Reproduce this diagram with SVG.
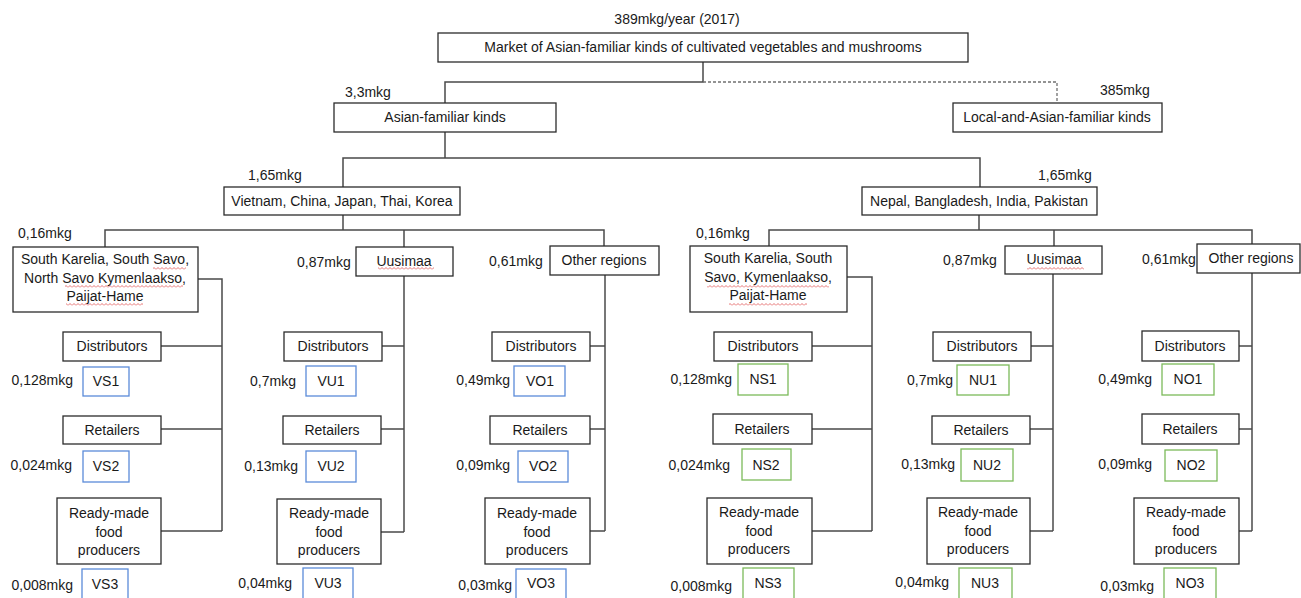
<svg xmlns="http://www.w3.org/2000/svg" width="1301" height="598" viewBox="0 0 1301 598">
  <style>
    text { font-family: "Liberation Sans", Arial, sans-serif; font-size: 14px; fill: #1a1a1a; }
    .c { text-anchor: middle; }
    .e { text-anchor: end; }
    .box { fill: #ffffff; stroke: #2b2b2b; stroke-width: 1.3; }
    .blue { fill: #ffffff; stroke: #5b8bd9; stroke-width: 1.3; }
    .green { fill: #ffffff; stroke: #7cba5a; stroke-width: 1.3; }
    .link { fill: none; stroke: #4a4a4a; stroke-width: 1.5; }
    .dash { fill: none; stroke: #707070; stroke-width: 1.3; stroke-dasharray: 3 2; }
    .wavy { fill: url(#wave); }
  </style>
  <defs>
    <pattern id="wave" x="0" y="0" width="4" height="3" patternUnits="userSpaceOnUse">
      <path d="M0 2.5 L2 0.5 L4 2.5" fill="none" stroke="#e05050" stroke-width="0.8"/>
    </pattern>
  </defs>

  <!-- connectors -->
  <g id="connectors">
    <path class="link" d="M703 62 V82 H445 V103"/>
    <path class="dash" d="M703 82 H1057 V103"/>
    <path class="link" d="M445 132 V158"/>
    <path class="link" d="M343 187 V158 H980 V187"/>
    <!-- Vietnam branch -->
    <path class="link" d="M343 215 V230"/>
    <path class="link" d="M105 247 V230 H604 V246"/>
    <path class="link" d="M404 230 V247"/>
    <!-- Nepal branch -->
    <path class="link" d="M979 215 V230"/>
    <path class="link" d="M769 246 V230 H1252 V244"/>
    <path class="link" d="M1054 230 V246"/>
    <!-- VS -->
    <path class="link" d="M198 279 H222 V531"/>
    <path class="link" d="M161 346 H222 M161 429 H222 M161 531 H222"/>
    <!-- VU -->
    <path class="link" d="M404 276 V532"/>
    <path class="link" d="M382 346 H404 M381 429 H404 M381 532 H404"/>
    <!-- VO -->
    <path class="link" d="M605 275 V531"/>
    <path class="link" d="M590 346 H605 M590 429 H605 M590 531 H605"/>
    <!-- NS -->
    <path class="link" d="M847 277 H872 V531"/>
    <path class="link" d="M812 346 H872 M812 429 H872 M812 531 H872"/>
    <!-- NU -->
    <path class="link" d="M1053 274 V531"/>
    <path class="link" d="M1031 346 H1053 M1030 429 H1053 M1030 531 H1053"/>
    <!-- NO -->
    <path class="link" d="M1252 273 V531"/>
    <path class="link" d="M1239 346 H1252 M1239 429 H1252 M1239 531 H1252"/>
  </g>

  <!-- top level -->
  <text x="677" y="24" class="c">389mkg/year (2017)</text>
  <g id="market">
    <rect class="box" x="438" y="33" width="530" height="29"/>
    <text x="703" y="52" class="c">Market of Asian-familiar kinds of cultivated vegetables and mushrooms</text>
  </g>

  <text x="345" y="97">3,3mkg</text>
  <g id="asian">
    <rect class="box" x="334" y="103" width="222" height="29"/>
    <text x="445" y="122" class="c">Asian-familiar kinds</text>
  </g>

  <text x="1100" y="95">385mkg</text>
  <g id="local">
    <rect class="box" x="953" y="103" width="209" height="29"/>
    <text x="1057" y="122" class="c">Local-and-Asian-familiar kinds</text>
  </g>

  <text x="248" y="180">1,65mkg</text>
  <g id="vietnam">
    <rect class="box" x="224" y="187" width="236" height="28"/>
    <text x="342" y="206" class="c">Vietnam, China, Japan, Thai, Korea</text>
  </g>

  <text x="1038" y="180">1,65mkg</text>
  <g id="nepal">
    <rect class="box" x="862" y="187" width="235" height="28"/>
    <text x="979" y="206" class="c">Nepal, Bangladesh, India, Pakistan</text>
  </g>

  <!-- Vietnam regions -->
  <text x="18" y="238">0,16mkg</text>
  <g id="v-south">
    <rect class="box" x="13" y="247" width="185" height="65"/>
    <text x="105" y="264" class="c">South Karelia, South Savo,</text>
    <text x="105" y="283" class="c">North Savo Kymenlaakso,</text>
    <text x="105" y="301" class="c">Paijat-Hame</text>
    <rect class="wavy" x="153" y="267" width="33" height="3"/>
    <rect class="wavy" x="65" y="285" width="118" height="3"/>
    <rect class="wavy" x="66" y="303" width="77" height="3"/>
  </g>

  <text x="297" y="267">0,87mkg</text>
  <g id="v-uusimaa">
    <rect class="box" x="356" y="247" width="97" height="29"/>
    <text x="404" y="266" class="c">Uusimaa</text>
    <rect class="wavy" x="378" y="267" width="56" height="3"/>
  </g>

  <text x="489" y="266">0,61mkg</text>
  <g id="v-other">
    <rect class="box" x="550" y="246" width="109" height="29"/>
    <text x="604" y="265" class="c">Other regions</text>
  </g>

  <!-- Nepal regions -->
  <text x="696" y="238">0,16mkg</text>
  <g id="n-south">
    <rect class="box" x="690" y="246" width="157" height="66"/>
    <text x="768" y="263" class="c">South Karelia, South</text>
    <text x="768" y="282" class="c">Savo, Kymenlaakso,</text>
    <text x="768" y="300" class="c">Paijat-Hame</text>
    <rect class="wavy" x="707" y="285" width="122" height="3"/>
    <rect class="wavy" x="729" y="303" width="78" height="3"/>
  </g>

  <text x="943" y="265">0,87mkg</text>
  <g id="n-uusimaa">
    <rect class="box" x="1005" y="246" width="97" height="28"/>
    <text x="1054" y="264" class="c">Uusimaa</text>
    <rect class="wavy" x="1027" y="267" width="57" height="3"/>
  </g>

  <text x="1142" y="264">0,61mkg</text>
  <g id="n-other">
    <rect class="box" x="1197" y="244" width="103" height="29"/>
    <text x="1251" y="263" class="c">Other regions</text>
  </g>

  <!-- VS column -->
  <g id="vs-dist"><rect class="box" x="63" y="332" width="98" height="29"/><text x="112" y="351" class="c">Distributors</text></g>
  <text x="73" y="385" class="e">0,128mkg</text>
  <g id="vs1"><rect class="blue" x="83" y="367" width="46" height="29"/><text x="106" y="386" class="c">VS1</text></g>
  <g id="vs-ret"><rect class="box" x="63" y="416" width="98" height="28"/><text x="112" y="435" class="c">Retailers</text></g>
  <text x="72" y="470" class="e">0,024mkg</text>
  <g id="vs2"><rect class="blue" x="83" y="451" width="46" height="31"/><text x="106" y="471" class="c">VS2</text></g>
  <g id="vs-food"><rect class="box" x="57" y="498" width="104" height="66"/>
    <text x="109" y="518" class="c">Ready-made</text><text x="109" y="537" class="c">food</text><text x="109" y="555" class="c">producers</text></g>
  <text x="73" y="590" class="e">0,008mkg</text>
  <g id="vs3"><rect class="blue" x="82" y="569" width="46" height="35"/><text x="105" y="589" class="c">VS3</text></g>

  <!-- VU column -->
  <g id="vu-dist"><rect class="box" x="284" y="332" width="98" height="29"/><text x="333" y="351" class="c">Distributors</text></g>
  <text x="296" y="386" class="e">0,7mkg</text>
  <g id="vu1"><rect class="blue" x="306" y="366" width="50" height="30"/><text x="331" y="386" class="c">VU1</text></g>
  <g id="vu-ret"><rect class="box" x="283" y="416" width="98" height="28"/><text x="332" y="435" class="c">Retailers</text></g>
  <text x="298" y="471" class="e">0,13mkg</text>
  <g id="vu2"><rect class="blue" x="306" y="451" width="50" height="31"/><text x="331" y="471" class="c">VU2</text></g>
  <g id="vu-food"><rect class="box" x="277" y="499" width="104" height="65"/>
    <text x="329" y="518" class="c">Ready-made</text><text x="329" y="537" class="c">food</text><text x="329" y="555" class="c">producers</text></g>
  <text x="292" y="588" class="e">0,04mkg</text>
  <g id="vu3"><rect class="blue" x="303" y="568" width="50" height="35"/><text x="328" y="588" class="c">VU3</text></g>

  <!-- VO column -->
  <g id="vo-dist"><rect class="box" x="492" y="332" width="98" height="29"/><text x="541" y="351" class="c">Distributors</text></g>
  <text x="510" y="385" class="e">0,49mkg</text>
  <g id="vo1"><rect class="blue" x="514" y="366" width="51" height="30"/><text x="540" y="386" class="c">VO1</text></g>
  <g id="vo-ret"><rect class="box" x="490" y="416" width="100" height="28"/><text x="540" y="435" class="c">Retailers</text></g>
  <text x="510" y="470" class="e">0,09mkg</text>
  <g id="vo2"><rect class="blue" x="518" y="451" width="50" height="31"/><text x="543" y="471" class="c">VO2</text></g>
  <g id="vo-food"><rect class="box" x="485" y="498" width="105" height="66"/>
    <text x="537" y="518" class="c">Ready-made</text><text x="537" y="537" class="c">food</text><text x="537" y="555" class="c">producers</text></g>
  <text x="512" y="590" class="e">0,03mkg</text>
  <g id="vo3"><rect class="blue" x="516" y="569" width="50" height="35"/><text x="541" y="588" class="c">VO3</text></g>

  <!-- NS column -->
  <g id="ns-dist"><rect class="box" x="714" y="332" width="98" height="29"/><text x="763" y="351" class="c">Distributors</text></g>
  <text x="732" y="384" class="e">0,128mkg</text>
  <g id="ns1"><rect class="green" x="738" y="364" width="50" height="31"/><text x="763" y="384" class="c">NS1</text></g>
  <g id="ns-ret"><rect class="box" x="713" y="414" width="99" height="30"/><text x="762" y="434" class="c">Retailers</text></g>
  <text x="730" y="470" class="e">0,024mkg</text>
  <g id="ns2"><rect class="green" x="742" y="449" width="49" height="31"/><text x="766" y="470" class="c">NS2</text></g>
  <g id="ns-food"><rect class="box" x="707" y="498" width="105" height="66"/>
    <text x="759" y="517" class="c">Ready-made</text><text x="759" y="536" class="c">food</text><text x="759" y="554" class="c">producers</text></g>
  <text x="732" y="591" class="e">0,008mkg</text>
  <g id="ns3"><rect class="green" x="743" y="568" width="51" height="35"/><text x="768" y="588" class="c">NS3</text></g>

  <!-- NU column -->
  <g id="nu-dist"><rect class="box" x="933" y="332" width="98" height="29"/><text x="982" y="351" class="c">Distributors</text></g>
  <text x="953" y="385" class="e">0,7mkg</text>
  <g id="nu1"><rect class="green" x="957" y="365" width="52" height="30"/><text x="983" y="385" class="c">NU1</text></g>
  <g id="nu-ret"><rect class="box" x="932" y="416" width="98" height="28"/><text x="981" y="435" class="c">Retailers</text></g>
  <text x="955" y="469" class="e">0,13mkg</text>
  <g id="nu2"><rect class="green" x="961" y="449" width="52" height="32"/><text x="987" y="470" class="c">NU2</text></g>
  <g id="nu-food"><rect class="box" x="927" y="498" width="103" height="66"/>
    <text x="978" y="517" class="c">Ready-made</text><text x="978" y="536" class="c">food</text><text x="978" y="554" class="c">producers</text></g>
  <text x="949" y="587" class="e">0,04mkg</text>
  <g id="nu3"><rect class="green" x="959" y="568" width="53" height="35"/><text x="985" y="588" class="c">NU3</text></g>

  <!-- NO column -->
  <g id="no-dist"><rect class="box" x="1142" y="331" width="97" height="30"/><text x="1190" y="351" class="c">Distributors</text></g>
  <text x="1152" y="384" class="e">0,49mkg</text>
  <g id="no1"><rect class="green" x="1162" y="364" width="52" height="31"/><text x="1188" y="384" class="c">NO1</text></g>
  <g id="no-ret"><rect class="box" x="1142" y="414" width="97" height="30"/><text x="1190" y="434" class="c">Retailers</text></g>
  <text x="1152" y="469" class="e">0,09mkg</text>
  <g id="no2"><rect class="green" x="1165" y="450" width="52" height="31"/><text x="1191" y="470" class="c">NO2</text></g>
  <g id="no-food"><rect class="box" x="1134" y="498" width="105" height="66"/>
    <text x="1186" y="517" class="c">Ready-made</text><text x="1186" y="536" class="c">food</text><text x="1186" y="554" class="c">producers</text></g>
  <text x="1154" y="591" class="e">0,03mkg</text>
  <g id="no3"><rect class="green" x="1164" y="568" width="52" height="35"/><text x="1190" y="588" class="c">NO3</text></g>
</svg>
